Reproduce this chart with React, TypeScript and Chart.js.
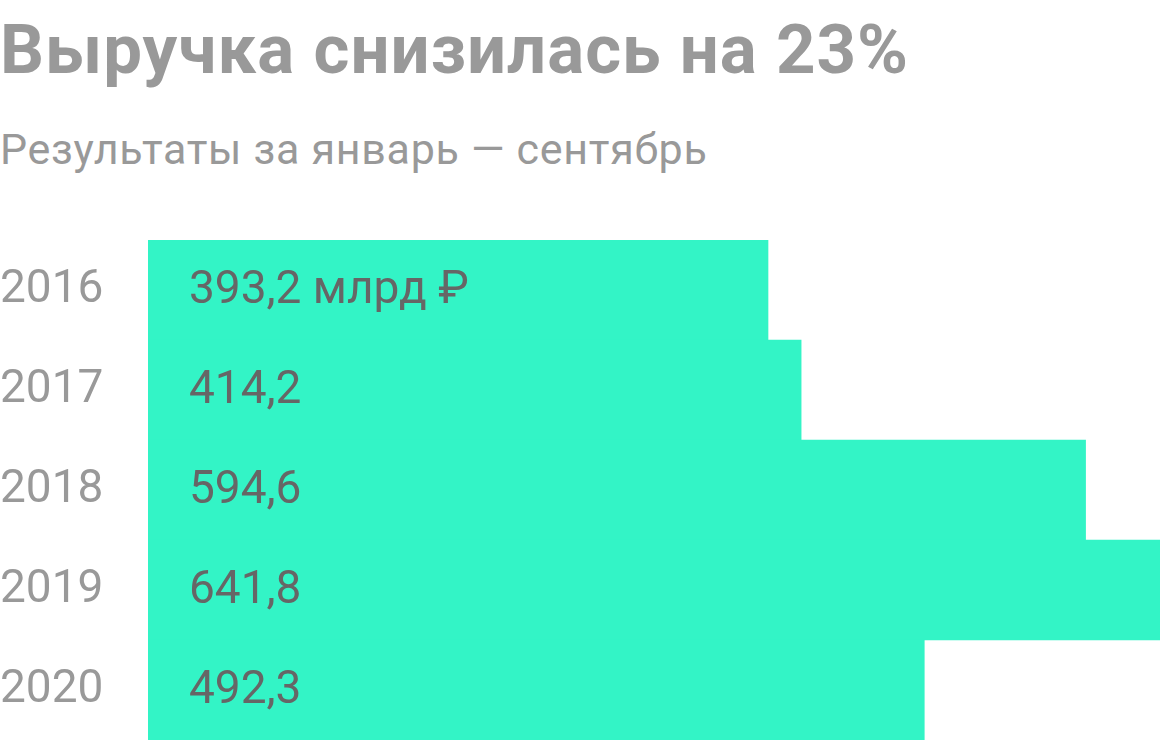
import { useEffect, useRef } from 'react'
import { Chart, registerables } from 'chart.js'

Chart.register(...registerables)

// Chart data
const years = ['2016', '2017', '2018', '2019', '2020']
const revenue = [393.2, 414.2, 594.6, 641.8, 492.3]
const valueLabels = ['393,2 млрд ₽', '414,2', '594,6', '641,8', '492,3']

const BAR_COLOR = '#33F4C6'
const FONT = 'Roboto, "Noto Sans", sans-serif'

// Draws value text inside each bar, near its base
const insideLabels = {
  id: 'insideLabels',
  afterDatasetsDraw(chart: any) {
    const { ctx } = chart
    const meta = chart.getDatasetMeta(0)
    ctx.save()
    ctx.font = `400 46px ${FONT}`
    ctx.fillStyle = '#666666'
    ctx.textAlign = 'left'
    ctx.textBaseline = 'middle'
    meta.data.forEach((bar: any, i: number) => {
      ctx.fillText(valueLabels[i], bar.base + 41, bar.y + 1)
    })
    ctx.restore()
  }
}

const App = () => {
  const chartRef = useRef<HTMLCanvasElement>(null)

  useEffect(() => {
    document.body.style.margin = '0'
    const ctx = chartRef.current?.getContext('2d')
    if (!ctx) return

    const chart = new Chart(ctx, {
      type: 'bar',
      data: {
        labels: years,
        datasets: [
          {
            data: revenue,
            backgroundColor: BAR_COLOR,
            borderWidth: 0,
            categoryPercentage: 1,
            barPercentage: 1
          }
        ]
      },
      options: {
        indexAxis: 'y',
        animation: false,
        responsive: false,
        maintainAspectRatio: false,
        layout: { padding: 0 },
        plugins: {
          legend: { display: false },
          tooltip: { enabled: false }
        },
        scales: {
          x: {
            display: false,
            min: 0,
            max: 641.8
          },
          y: {
            grid: { display: false },
            border: { display: false },
            ticks: {
              color: '#999999',
              // zero line height so the labels add no padding above/below the bars
              font: { family: FONT, size: 46, lineHeight: '0px' },
              crossAlign: 'far',
              padding: 0
            },
            afterFit: (scale: any) => {
              scale.width = 148
            }
          }
        }
      },
      plugins: [insideLabels]
    })

    return () => {
      chart.destroy()
    }
  }, [])

  return (
    <div style={{ position: 'relative', width: 1160, height: 740, background: '#fff', overflow: 'hidden', fontFamily: FONT }}>
      <div
        style={{
          position: 'absolute',
          left: 0,
          top: 15,
          fontSize: 69,
          lineHeight: '69px',
          fontWeight: 700,
          letterSpacing: '1px',
          color: '#999999',
          whiteSpace: 'nowrap'
        }}
      >
        Выручка снизилась на 23%
      </div>
      <div
        style={{
          position: 'absolute',
          left: 0,
          top: 128,
          fontSize: 43,
          lineHeight: '43px',
          fontWeight: 400,
          letterSpacing: '0.7px',
          color: '#999999',
          whiteSpace: 'nowrap'
        }}
      >
        Результаты за январь — сентябрь
      </div>
      <div style={{ position: 'absolute', left: 0, top: 240, width: 1160, height: 500 }}>
        <canvas ref={chartRef} width={1160} height={500} />
      </div>
    </div>
  )
}

export default App
